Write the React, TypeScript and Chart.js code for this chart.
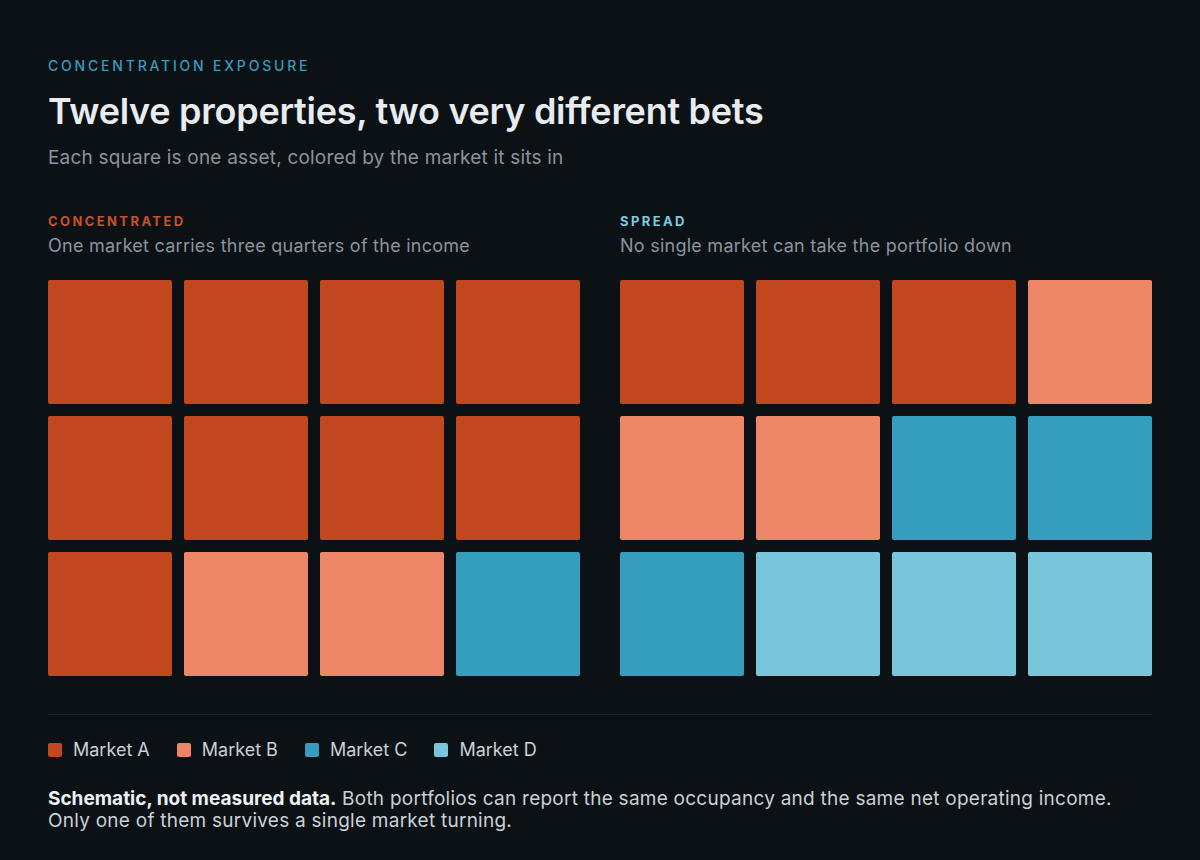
import React, { useEffect, useRef } from "react";
import { Chart, registerables } from "chart.js";

Chart.register(...registerables);

const MARKETS = ["Market A", "Market B", "Market C", "Market D"];
const MARKET_COLORS = ["#c2471f", "#ec8667", "#359dbd", "#77c6db"];
const COLUMNS = ["1", "2", "3", "4"];
// market index for each cell, row by row (top to bottom)
const CONCENTRATED_ROWS = [
  [0, 0, 0, 0],
  [0, 0, 0, 0],
  [0, 1, 1, 2],
];
const SPREAD_ROWS = [
  [0, 0, 0, 1],
  [1, 1, 2, 2],
  [2, 3, 3, 3],
];

const BG = "#0c1116";
const FONT = "Inter, 'Noto Sans', sans-serif";

const CELL = 124;
const GAP = 12;
const PITCH = CELL + GAP;

function Grid({ rows, left, top }: { rows: number[][]; left: number; top: number }) {
  const ref = useRef<HTMLCanvasElement | null>(null);
  useEffect(() => {
    if (!ref.current) return;
    const inset = GAP / 2 / PITCH;
    const datasets = rows.map((row, r) => ({
      label: "row " + (r + 1),
      data: row.map(() => [r + inset, r + 1 - inset] as [number, number]),
      backgroundColor: row.map((m) => MARKET_COLORS[m]),
      borderWidth: 0,
      borderRadius: 2,
      borderSkipped: false,
      grouped: false,
      barPercentage: CELL / PITCH,
      categoryPercentage: 1,
    }));
    const chart = new Chart(ref.current, {
      type: "bar",
      data: { labels: COLUMNS, datasets },
      options: {
        animation: false,
        responsive: false,
        maintainAspectRatio: false,
        layout: { padding: 0 },
        plugins: { legend: { display: false }, tooltip: { enabled: false } },
        scales: {
          x: { display: false, offset: true },
          y: { display: false, min: 0, max: rows.length, reverse: true },
        },
      },
    });
    return () => chart.destroy();
  }, [rows]);
  return (
    <canvas
      ref={ref}
      width={PITCH * 4}
      height={PITCH * rows.length}
      style={{ position: "absolute", left: left - GAP / 2, top: top - GAP / 2, width: PITCH * 4, height: PITCH * rows.length }}
    />
  );
}

const abs = (top: number, extra: React.CSSProperties = {}): React.CSSProperties => ({
  position: "absolute",
  left: 48,
  top,
  margin: 0,
  whiteSpace: "nowrap",
  ...extra,
});

export default function App() {
  return (
    <div
      style={{
        position: "fixed",
        left: 0,
        top: 0,
        width: 1200,
        height: 860,
        background: BG,
        fontFamily: FONT,
        overflow: "hidden",
      }}
    >
      <div style={abs(57, { fontSize: 14, lineHeight: "18px", letterSpacing: "2.8px", color: "#3b9bba", fontWeight: 500 })}>
        CONCENTRATION EXPOSURE
      </div>
      <div style={abs(89, { fontSize: 36, lineHeight: "44px", letterSpacing: "-0.27px", color: "#e8ecef", fontWeight: 600 })}>
        Twelve properties, two very different bets
      </div>
      <div style={abs(146, { fontSize: 19, lineHeight: "24px", letterSpacing: "0.2px", color: "#8a949c" })}>
        Each square is one asset, colored by the market it sits in
      </div>

      <div style={abs(212, { fontSize: 13, lineHeight: "18px", letterSpacing: "2.4px", color: "#c8502a", fontWeight: 700 })}>
        CONCENTRATED
      </div>
      <div style={abs(234, { fontSize: 18, lineHeight: "24px", letterSpacing: "0.25px", color: "#8a949c" })}>
        One market carries three quarters of the income
      </div>
      <div style={abs(212, { left: 620, fontSize: 13, lineHeight: "18px", letterSpacing: "2.4px", color: "#7ccadf", fontWeight: 700 })}>
        SPREAD
      </div>
      <div style={abs(234, { left: 620, fontSize: 18, lineHeight: "24px", letterSpacing: "0.25px", color: "#8a949c" })}>
        No single market can take the portfolio down
      </div>

      <Grid rows={CONCENTRATED_ROWS} left={48} top={280} />
      <Grid rows={SPREAD_ROWS} left={620} top={280} />

      <div style={{ position: "absolute", left: 48, top: 714, width: 1104, height: 1, background: "#1c2828" }} />

      <div style={abs(739, { display: "flex", alignItems: "center", fontSize: 18, lineHeight: "22px", color: "#c9d1d6" })}>
        {MARKETS.map((m, i) => (
          <div key={m} style={{ display: "flex", alignItems: "center", marginRight: 27 }}>
            <span style={{ width: 14, height: 14, borderRadius: 2, background: MARKET_COLORS[i], display: "inline-block", marginRight: 11 }} />
            <span>{m}</span>
          </div>
        ))}
      </div>

      <div style={abs(788, { fontSize: 19, lineHeight: "22px", letterSpacing: "0.25px", color: "#c9d1d6", whiteSpace: "normal", width: 1130 })}>
        <b style={{ color: "#eef1f3", fontWeight: 700, letterSpacing: "0px" }}>Schematic, not measured data.</b> Both portfolios can report the same occupancy and the same net operating income.
        <br />
        Only one of them survives a single market turning.
      </div>
    </div>
  );
}
